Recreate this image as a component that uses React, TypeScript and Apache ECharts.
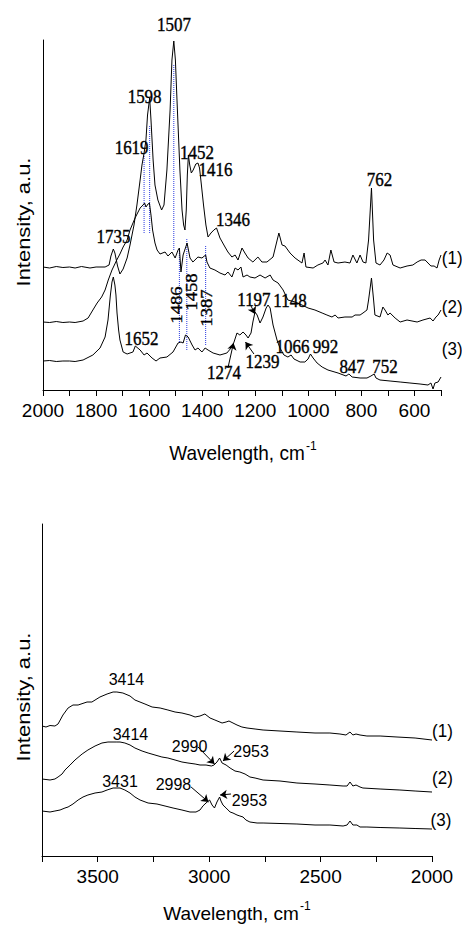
import React, { useEffect, useRef } from "react";
import * as echarts from "echarts";

type Pt = [number, number];

// ---- 2000–500 cm-1 region: three offset spectra (arbitrary intensity units) ----
const fingerprint1: Pt[] = [
  [2000, 123], [1975, 122], [1950, 123.5], [1925, 122.5], [1900, 123], [1879, 122], [1855, 123.5],
  [1823, 122], [1800, 123], [1766, 123], [1751, 125], [1744, 134], [1735, 141], [1729, 137],
  [1719, 124], [1710, 116], [1698, 121], [1683, 132], [1672, 145], [1657, 165], [1646, 185],
  [1634, 210], [1627, 225], [1619, 237], [1612, 250], [1606, 275], [1598, 292], [1593, 270],
  [1585, 230], [1578, 205], [1567, 190], [1553, 180], [1544, 185], [1533, 220], [1521, 280],
  [1514, 330], [1507, 349], [1501, 330], [1495, 290], [1484, 220], [1476, 180], [1470, 165],
  [1465, 160], [1460, 180], [1456, 215], [1452, 235], [1447, 225], [1441, 217], [1434, 220],
  [1424, 226], [1416, 227], [1410, 222], [1403, 205], [1395, 185], [1386, 165], [1378, 153],
  [1367, 157], [1356, 160], [1346, 162], [1333, 152], [1314, 143], [1303, 138], [1288, 133],
  [1276, 135], [1265, 130], [1250, 142], [1239, 137], [1227, 132], [1209, 128], [1190, 133],
  [1175, 128], [1156, 128], [1133, 133], [1122, 145], [1111, 157], [1099, 145], [1088, 144],
  [1069, 137], [1050, 132], [1024, 127], [1016, 137], [1009, 123], [982, 122], [964, 125],
  [945, 127], [937, 130], [926, 125], [915, 140], [903, 128], [888, 127], [862, 128],
  [843, 127], [832, 135], [817, 127], [805, 135], [794, 128], [783, 127], [773, 150],
  [762, 202], [754, 150], [745, 127], [730, 125], [715, 130], [703, 137], [692, 135],
  [681, 125], [654, 122], [628, 124], [606, 125], [590, 128], [575, 130], [560, 130],
  [549, 127], [538, 124], [526, 124], [515, 122], [507, 130], [500, 135],
];

const fingerprint2: Pt[] = [
  [2000, 68], [1975, 67.5], [1950, 68.5], [1925, 67.5], [1900, 68], [1879, 67.5], [1849, 69],
  [1830, 72], [1812, 80], [1796, 87], [1779, 93], [1766, 100], [1754, 110], [1740, 120],
  [1722, 130], [1710, 136], [1698, 143], [1683, 150], [1672, 160], [1653, 172], [1634, 182],
  [1623, 185], [1617, 187], [1612, 183], [1604, 186], [1599, 187], [1593, 175], [1587, 160],
  [1578, 147], [1570, 140], [1559, 136], [1540, 138], [1529, 134], [1514, 138], [1502, 132],
  [1491, 140], [1486, 142], [1480, 118], [1472, 135], [1457, 147], [1446, 132], [1435, 128],
  [1416, 133], [1401, 132], [1387, 135], [1382, 128], [1371, 122], [1352, 120], [1333, 117],
  [1314, 115], [1303, 118], [1288, 113], [1276, 122], [1265, 120], [1254, 123], [1246, 113],
  [1231, 115], [1220, 113], [1201, 112], [1182, 115], [1163, 112], [1144, 115], [1133, 110],
  [1114, 107], [1095, 100], [1077, 90], [1050, 88], [1024, 85], [1001, 82], [975, 80],
  [948, 77], [930, 75], [911, 73], [899, 75], [888, 72], [862, 73], [835, 73], [824, 75],
  [805, 75], [794, 77], [779, 80], [773, 90], [762, 112], [754, 90], [749, 75], [730, 73],
  [719, 83], [711, 80], [700, 75], [692, 77], [673, 72], [654, 68], [628, 70], [590, 68],
  [568, 70], [541, 72], [530, 69], [519, 73], [511, 75], [500, 80],
];

const fingerprint3: Pt[] = [
  [2000, 29], [1975, 29.5], [1950, 28.5], [1925, 29], [1900, 29], [1879, 28.5], [1849, 30],
  [1812, 35], [1785, 42], [1766, 53], [1755, 70], [1746, 95], [1740, 108], [1735, 113],
  [1729, 105], [1725, 95], [1721, 77], [1715, 60], [1710, 50], [1698, 38], [1683, 36],
  [1672, 37], [1661, 38], [1652, 44], [1634, 40], [1619, 35], [1608, 37], [1589, 32],
  [1574, 29], [1559, 32], [1533, 33], [1510, 38], [1491, 47], [1480, 48], [1472, 47],
  [1463, 55], [1453, 53], [1438, 45], [1427, 40], [1416, 42], [1401, 38], [1389, 42],
  [1378, 40], [1359, 37], [1333, 35], [1307, 37], [1288, 43], [1280, 48], [1269, 57],
  [1258, 55], [1246, 58], [1235, 55], [1227, 52], [1216, 57], [1209, 68], [1201, 78],
  [1193, 75], [1182, 67], [1171, 73], [1159, 82], [1152, 85], [1144, 82], [1133, 65],
  [1118, 50], [1107, 42], [1092, 35], [1077, 33], [1065, 35], [1054, 31], [1031, 28],
  [1013, 28], [1001, 31], [992, 36], [982, 32], [967, 27], [948, 23], [926, 20], [888, 17],
  [858, 14], [847, 16], [835, 13], [805, 12], [779, 12], [764, 14], [752, 16], [745, 12],
  [730, 10], [692, 9], [654, 8], [617, 7], [579, 6], [549, 5], [538, 7], [530, 1], [523, 7],
  [511, 8], [500, 13],
];

// ---- 3750–2000 cm-1 region ----
const stretch1: Pt[] = [
  [3750, 130], [3732, 129], [3714, 130.5], [3692, 130], [3678, 132], [3656, 141], [3633, 148],
  [3611, 151], [3588, 151], [3548, 154], [3526, 154], [3490, 159], [3458, 162], [3431, 164],
  [3414, 164], [3387, 163], [3355, 160], [3333, 156], [3288, 152], [3256, 149], [3220, 148],
  [3185, 146], [3153, 144], [3122, 143], [3086, 141], [3063, 139], [3041, 140], [3019, 142],
  [2996, 138], [2974, 136], [2942, 133], [2924, 134], [2911, 135], [2893, 133], [2875, 131],
  [2853, 129], [2830, 128], [2794, 127], [2758, 126], [2682, 125], [2606, 124], [2525, 123],
  [2458, 123], [2413, 122], [2386, 121], [2368, 124], [2355, 121], [2341, 122], [2323, 121],
  [2292, 120], [2233, 120], [2157, 119], [2076, 118], [2000, 116],
];

const stretch2: Pt[] = [
  [3750, 77], [3732, 76.5], [3714, 76], [3692, 77], [3678, 79], [3660, 82], [3647, 86],
  [3624, 91], [3602, 96], [3570, 102], [3544, 106], [3512, 110], [3481, 113], [3454, 114],
  [3414, 114], [3400, 114], [3378, 113], [3355, 111], [3333, 108], [3301, 105], [3274, 103],
  [3243, 101], [3212, 99], [3185, 98], [3153, 96], [3122, 94], [3095, 93], [3063, 92],
  [3041, 91], [3014, 91], [2990, 90], [2978, 91], [2965, 94], [2953, 98], [2942, 93],
  [2924, 91], [2906, 88], [2884, 85], [2862, 84], [2839, 82], [2817, 79], [2794, 78],
  [2758, 76], [2682, 75], [2606, 73], [2525, 72], [2458, 71], [2399, 70], [2381, 70],
  [2368, 74], [2355, 70], [2341, 71], [2323, 69], [2310, 68], [2233, 67], [2144, 66],
  [2076, 65], [2000, 64],
];

const stretch3: Pt[] = [
  [3750, 45], [3732, 44.5], [3714, 44], [3692, 45], [3669, 46], [3647, 48], [3633, 49],
  [3611, 52], [3588, 56], [3566, 59], [3544, 61], [3512, 63], [3481, 64], [3458, 66],
  [3431, 68], [3400, 68], [3378, 66], [3355, 63], [3333, 59], [3310, 56], [3274, 53],
  [3234, 52], [3198, 50], [3162, 48], [3122, 46], [3086, 44], [3059, 44], [3041, 46],
  [3028, 50], [3014, 53], [2998, 56], [2987, 51], [2976, 48], [2965, 54], [2953, 59],
  [2947, 55], [2938, 51], [2924, 48], [2906, 44], [2893, 43], [2875, 41], [2862, 40],
  [2848, 39], [2835, 36], [2817, 34], [2785, 33], [2758, 33], [2682, 32.5], [2606, 32],
  [2525, 31], [2458, 31], [2399, 30], [2381, 31], [2368, 35], [2355, 31], [2337, 31],
  [2323, 29], [2292, 29], [2233, 28.5], [2144, 28], [2076, 27.5], [2000, 27],
];

// Peak annotations: [text, wavenumber, intensity]
type Note = [string, number, number];
const fingerprintNotes: Note[] = [
  ["1507", 1506, 365], ["1598", 1617, 293], ["1619", 1666, 242], ["1452", 1420, 237],
  ["1416", 1350, 220], ["1346", 1284, 170], ["762", 732, 210], ["1735", 1734, 153],
  ["1652", 1629, 51], ["1197", 1205, 90], ["1148", 1069, 89], ["1274", 1318, 17],
  ["1239", 1173, 28], ["1066", 1060, 43], ["992", 935, 43], ["847", 835, 23], ["752", 711, 23],
];
const fingerprintVerticalNotes: Note[] = [
  ["1486", 1497, 85], ["1458", 1442, 98], ["1387", 1384, 82],
];
const fingerprintTags: Note[] = [["(1)", 458, 132], ["(2)", 458, 83], ["(3)", 458, 41]];

const stretchNotes: Note[] = [
  ["3414", 3371, 177], ["3414", 3353, 122], ["3431", 3400, 75], ["2990", 3088, 110],
  ["2998", 3160, 72], ["2953", 2812, 105], ["2953", 2819, 56],
];
const stretchTags: Note[] = [["(1)", 1953, 125], ["(2)", 1953, 78], ["(3)", 1960, 36]];

// Blue dotted guides: [wavenumber, from, to]
const guides: [number, number, number][] = [
  [1619, 157, 235], [1598, 157, 265], [1507, 140, 325],
  [1486, 48, 142], [1458, 40, 152], [1387, 45, 145],
];

// Pointer arrows: [from, to]
const fingerprintArrows: [Pt, Pt][] = [
  [[1303, 22], [1282, 47]],
  [[1205, 36], [1237, 48]],
  [[1216, 84], [1201, 76]],
];
const stretchArrows: [Pt, Pt][] = [
  [[3050, 109], [2976, 92]],
  [[2888, 105], [2938, 95]],
  [[3081, 69], [3003, 54]],
  [[2902, 62], [2951, 61]],
];

const SANS = "Liberation Sans";
const SERIF = "Liberation Serif";

function trace(data: Pt[], idx: number, arrows?: [Pt, Pt][]) {
  const s: any = {
    type: "line",
    xAxisIndex: idx,
    yAxisIndex: idx,
    data,
    symbol: "none",
    showSymbol: false,
    silent: true,
    lineStyle: { color: "#000", width: 1 },
    z: 3,
  };
  if (arrows) {
    s.markLine = {
      silent: true,
      symbol: ["none", "arrow"],
      symbolSize: 7,
      label: { show: false },
      emphasis: { disabled: true },
      lineStyle: { color: "#000", width: 1, type: "solid" },
      data: arrows.map(([a, b]) => [{ coord: a }, { coord: b }]),
    };
  }
  return s;
}

function xAxis(idx: number, min: number, max: number, step: number, labelStep: number) {
  return {
    gridIndex: idx,
    type: "value",
    min,
    max,
    interval: step,
    inverse: true,
    axisLine: { show: true, onZero: false, lineStyle: { color: "#000", width: 1 } },
    axisTick: { show: true, length: 6, lineStyle: { color: "#000", width: 1 } },
    axisLabel: {
      formatter: (v: number) => (v % labelStep === 0 ? String(v) : ""),
      fontSize: 19,
      fontFamily: SANS,
      color: "#000",
      margin: 11,
    },
    splitLine: { show: false },
  };
}

function yAxis(idx: number, max: number) {
  return {
    gridIndex: idx,
    type: "value",
    min: 0,
    max,
    axisLine: { show: true, onZero: false, lineStyle: { color: "#000", width: 1 } },
    axisTick: { show: false },
    axisLabel: { show: false },
    splitLine: { show: false },
  };
}

function axisTitle(x: number, y: number, stretch: number) {
  return [
    {
      type: "text",
      x,
      y,
      scaleY: stretch,
      style: {
        text: "Wavelength, cm",
        fontSize: 19,
        fontFamily: SANS,
        fill: "#000",
        align: "center",
        verticalAlign: "middle",
      },
    },
    {
      type: "text",
      x: x + 69,
      y: y - 7,
      style: {
        text: "-1",
        fontSize: 12,
        fontFamily: SANS,
        fill: "#000",
        align: "left",
        verticalAlign: "middle",
      },
    },
  ];
}

function intensityTitle(y: number) {
  return {
    type: "text",
    x: 24,
    y,
    rotation: Math.PI / 2,
    scaleX: 1.22,
    style: {
      text: "Intensity, a.u.",
      fontSize: 18,
      fontFamily: SANS,
      fill: "#000",
      align: "center",
      verticalAlign: "middle",
    },
  };
}

export default function App() {
  const ref = useRef<HTMLDivElement>(null);

  useEffect(() => {
    const el = ref.current;
    if (!el) return;
    const chart = echarts.init(el, undefined, { renderer: "svg" });

    const guideSeries = guides.map(([wn, a, b]) => ({
      type: "line",
      xAxisIndex: 0,
      yAxisIndex: 0,
      data: [[wn, a], [wn, b]],
      symbol: "none",
      showSymbol: false,
      silent: true,
      lineStyle: { color: "#2b3be0", width: 1, type: "dotted" },
      z: 2,
    }));

    chart.setOption({
      animation: false,
      backgroundColor: "#fff",
      grid: [
        { left: 43, top: 40, width: 398, height: 350, outerBoundsMode: "none", containLabel: false },
        { left: 42, top: 524, width: 390, height: 332, outerBoundsMode: "none", containLabel: false },
      ],
      xAxis: [xAxis(0, 500, 2000, 100, 200), xAxis(1, 2000, 3750, 250, 500)],
      yAxis: [yAxis(0, 350), yAxis(1, 332)],
      series: [
        ...guideSeries,
        trace(fingerprint1, 0),
        trace(fingerprint2, 0),
        trace(fingerprint3, 0, fingerprintArrows),
        trace(stretch1, 1),
        trace(stretch2, 1),
        trace(stretch3, 1, stretchArrows),
      ],
    } as any);

    // Annotation texts are placed at data coordinates through the grids' own scales.
    const place = (
      items: Note[],
      grid: number,
      font: string,
      size: number,
      opts: { rotate?: boolean; stretch?: number } = {}
    ) =>
      items.map(([t, x, y]) => {
        const p = chart.convertToPixel({ gridIndex: grid } as any, [x, y]) as number[];
        const s = opts.stretch ?? 1;
        return {
          type: "text",
          x: p[0],
          y: p[1],
          rotation: opts.rotate ? Math.PI / 2 : 0,
          scaleX: opts.rotate ? s : 1,
          scaleY: opts.rotate ? 1 : s,
          silent: true,
          z: 10,
          style: {
            text: t,
            fontSize: size,
            fontFamily: font,
            fill: "#000",
            stroke: "#000",
            lineWidth: font === SERIF ? 0.35 : 0,
            align: "center",
            verticalAlign: "middle",
          },
        };
      });

    chart.setOption({
      graphic: [
        intensityTitle(222),
        intensityTitle(697),
        ...axisTitle(237, 453, 1.1),
        ...axisTitle(231, 913, 1),
        ...place(fingerprintNotes, 0, SERIF, 17, { stretch: 1.12 }),
        ...place(fingerprintVerticalNotes, 0, SERIF, 17, { rotate: true, stretch: 1.1 }),
        ...place(fingerprintTags, 0, SANS, 17, { stretch: 1.1 }),
        ...place(stretchNotes, 1, SANS, 16, { stretch: 1.05 }),
        ...place(stretchTags, 1, SANS, 17, { stretch: 1.1 }),
      ],
    } as any);

    return () => chart.dispose();
  }, []);

  return (
    <div
      ref={ref}
      style={{ position: "fixed", left: 0, top: 0, width: 462, height: 927, background: "#fff" }}
    />
  );
}
